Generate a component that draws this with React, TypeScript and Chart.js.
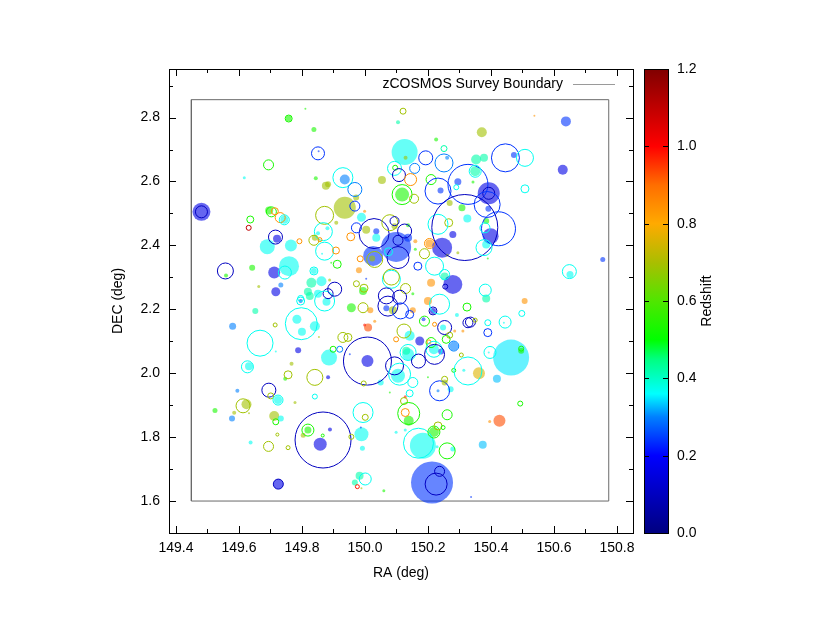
import React, { useEffect, useRef } from 'react';
import { Chart, registerables } from 'chart.js';

Chart.register(...registerables);

const FONT = "'Liberation Sans', Arial, Helvetica, sans-serif";

// Axis tick values
const raTicks = [149.4, 149.5, 149.6, 149.7, 149.8, 149.9, 150.0, 150.1, 150.2, 150.3, 150.4, 150.5, 150.6, 150.7, 150.8];
const raLabelled = [149.4, 149.6, 149.8, 150.0, 150.2, 150.4, 150.6, 150.8];
const decTicks = [1.5, 1.6, 1.7, 1.8, 1.9, 2.0, 2.1, 2.2, 2.3, 2.4, 2.5, 2.6, 2.7, 2.8, 2.9];
const decLabelled = [1.6, 1.8, 2.0, 2.2, 2.4, 2.6, 2.8];
const zTicks = [0, 0.2, 0.4, 0.6, 0.8, 1.0, 1.2];

// Survey boundary (RA, DEC corners)
const boundaryRA = [149.449, 150.774, 150.774, 149.449, 149.449];
const boundaryDEC = [1.6, 1.6, 2.856, 2.856, 1.6];

// Colour map for redshift
const cmapZ = [0, 0.2, 0.3, 0.36, 0.45, 0.5, 0.6, 0.7, 0.8, 0.9, 1.0, 1.2];
const cmapRGB = [
  [0, 0, 128], [0, 0, 255], [0, 128, 255], [0, 255, 255], [0, 255, 128], [0, 255, 0],
  [80, 230, 0], [170, 190, 0], [255, 170, 0], [255, 110, 0], [255, 0, 0], [128, 0, 0],
];

// Groups drawn as filled discs: [RA, DEC, redshift, radius]
const filledGroups = [
  [149.811, 2.828, 0.53, 1], [149.758, 2.797, 0.53, 3], [149.838, 2.763, 0.53, 2.5], [149.853, 2.695, 0.24, 1],
  [149.617, 2.612, 0.37, 1.5], [149.844, 2.610, 0.53, 2], [149.876, 2.587, 0.69, 4], [149.481, 2.505, 0.16, 9],
  [149.696, 2.509, 0.53, 4], [149.744, 2.480, 0.37, 4], [149.721, 2.421, 0.16, 4], [149.690, 2.396, 0.37, 7.5],
  [149.765, 2.400, 0.37, 6], [149.881, 2.454, 0.37, 2], [149.851, 2.438, 0.37, 2], [149.841, 2.424, 0.69, 3],
  [149.864, 2.374, 0.37, 1], [149.759, 2.335, 0.37, 10], [149.712, 2.315, 0.16, 6], [149.559, 2.306, 0.53, 2],
  [149.642, 2.330, 0.53, 3], [149.663, 2.271, 0.69, 1.5], [149.733, 2.276, 0.30, 2.5], [149.717, 2.255, 0.16, 4.5],
  [149.838, 2.320, 0.37, 3], [149.830, 2.283, 0.42, 5], [149.862, 2.288, 0.37, 5], [149.819, 2.255, 0.42, 4],
  [149.851, 2.249, 0.37, 4], [149.893, 2.346, 0.53, 1], [149.888, 2.292, 0.69, 1.5], [149.796, 2.226, 0.24, 2],
  [149.825, 2.242, 0.42, 4], [149.878, 2.224, 0.37, 4], [149.652, 2.195, 0.42, 3], [149.580, 2.147, 0.30, 3.5],
  [149.784, 2.169, 0.37, 4.5], [149.800, 2.130, 0.37, 4], [149.841, 2.147, 0.37, 5], [149.717, 2.068, 0.37, 1],
  [149.854, 2.113, 0.69, 1], [149.788, 2.072, 0.16, 3], [149.886, 2.049, 0.37, 8], [149.632, 2.022, 0.37, 4],
  [149.767, 2.030, 0.69, 2], [149.747, 1.983, 0.53, 2], [149.883, 1.987, 0.16, 2], [149.724, 1.916, 0.37, 4],
  [149.595, 1.945, 0.30, 2], [149.624, 1.903, 0.69, 5], [149.524, 1.883, 0.53, 2.5], [149.585, 1.876, 0.69, 2],
  [149.578, 1.858, 0.30, 3], [149.632, 1.875, 0.69, 1], [149.778, 1.908, 0.69, 1.5], [149.712, 1.866, 0.69, 5],
  [149.733, 1.858, 0.37, 3], [149.637, 1.783, 0.37, 2], [149.819, 1.822, 0.53, 3.5], [149.804, 1.806, 0.69, 2.5],
  [149.889, 1.824, 0.16, 2], [149.858, 1.778, 0.16, 6.5], [149.725, 1.653, 0.16, 5], [150.105, 2.785, 0.42, 2],
  [150.126, 2.692, 0.37, 13], [150.129, 2.674, 0.69, 2], [150.226, 2.731, 0.53, 2], [150.261, 2.674, 0.30, 2],
  [150.240, 2.572, 0.24, 3], [150.295, 2.599, 0.24, 3.5], [150.118, 2.559, 0.53, 7], [150.054, 2.605, 0.69, 4],
  [149.936, 2.606, 0.30, 5], [149.972, 2.550, 0.69, 3], [149.936, 2.518, 0.69, 11], [149.909, 2.471, 0.69, 2],
  [149.883, 2.591, 0.69, 3], [149.999, 2.507, 0.84, 1.5], [149.989, 2.488, 0.37, 4.5], [150.004, 2.449, 0.69, 4],
  [150.036, 2.444, 0.24, 3], [150.036, 2.424, 0.37, 4], [150.094, 2.460, 0.69, 3], [150.137, 2.463, 0.53, 2],
  [150.137, 2.424, 0.24, 4], [150.160, 2.413, 0.84, 2], [150.099, 2.395, 0.24, 15], [150.026, 2.367, 0.24, 10],
  [150.023, 2.359, 0.69, 3], [149.981, 2.322, 0.84, 3], [150.004, 2.296, 0.24, 1], [150.160, 2.388, 0.53, 1.5],
  [150.205, 2.406, 0.84, 4], [150.245, 2.393, 0.16, 10], [150.279, 2.434, 0.16, 3.5], [150.269, 2.533, 0.69, 3],
  [150.308, 2.518, 0.53, 3.5], [150.325, 2.484, 0.37, 4], [150.261, 2.369, 0.69, 1.5], [150.295, 2.377, 0.69, 1.5],
  [150.253, 2.303, 0.42, 4], [150.210, 2.283, 0.84, 4], [150.279, 2.278, 0.16, 9.5], [150.152, 2.249, 0.53, 1.5],
  [149.994, 2.257, 0.53, 4], [149.957, 2.205, 0.53, 4.5], [150.017, 2.197, 0.84, 3], [150.068, 2.203, 0.24, 3],
  [150.089, 2.197, 0.69, 4], [150.200, 2.226, 0.84, 4], [150.216, 2.195, 0.16, 3], [150.152, 2.197, 0.84, 3],
  [150.186, 2.169, 0.24, 2], [150.248, 2.143, 0.37, 3], [150.292, 2.182, 0.37, 2], [150.010, 2.143, 0.93, 4],
  [149.999, 2.151, 0.98, 1.5], [150.031, 2.163, 0.84, 1.5], [150.142, 2.117, 0.37, 5], [150.174, 2.101, 0.16, 4.5],
  [150.219, 2.075, 0.37, 5], [150.242, 2.068, 0.24, 3], [150.285, 2.132, 0.84, 1.5], [150.311, 2.132, 0.84, 1.5],
  [150.282, 2.085, 0.30, 4.5], [150.008, 2.038, 0.16, 6], [149.952, 2.059, 0.24, 1], [150.105, 1.992, 0.37, 7],
  [150.137, 2.059, 0.37, 6], [150.131, 2.070, 0.42, 4], [150.050, 1.971, 0.37, 3], [150.079, 1.940, 0.53, 1],
  [150.200, 1.987, 0.53, 1], [150.232, 1.945, 0.30, 1.5], [150.253, 1.971, 0.69, 3], [150.272, 1.950, 0.37, 3],
  [150.314, 2.009, 0.37, 1.5], [150.128, 1.926, 0.98, 1.5], [150.139, 1.851, 0.53, 5], [149.989, 1.809, 0.37, 7],
  [149.987, 1.830, 0.24, 1], [149.992, 1.765, 0.37, 2.5], [150.099, 1.815, 0.37, 1.5], [150.128, 1.822, 0.37, 1.5],
  [150.184, 1.773, 0.37, 13], [150.219, 1.816, 0.53, 5], [150.279, 1.763, 0.37, 2.5], [150.229, 1.770, 0.37, 1.5],
  [149.983, 1.679, 0.42, 4], [149.968, 1.658, 0.42, 3], [149.989, 1.640, 0.69, 1], [150.060, 1.632, 0.53, 1.5],
  [150.213, 1.658, 0.24, 21], [150.337, 1.613, 0.24, 1], [150.538, 2.806, 0.84, 1], [150.638, 2.788, 0.24, 5],
  [150.371, 2.754, 0.69, 5], [150.473, 2.683, 0.24, 3], [150.628, 2.637, 0.16, 5], [150.353, 2.669, 0.42, 5],
  [150.378, 2.674, 0.42, 4], [150.350, 2.632, 0.42, 5], [150.343, 2.598, 0.53, 1.5], [150.393, 2.563, 0.16, 11],
  [150.392, 2.515, 0.24, 3], [150.399, 2.429, 0.16, 8], [150.385, 2.476, 0.53, 3], [150.385, 2.403, 0.37, 4],
  [150.390, 2.359, 0.53, 1], [150.755, 2.356, 0.24, 2.5], [150.651, 2.309, 0.37, 3.5], [150.385, 2.234, 0.42, 4],
  [150.507, 2.226, 0.84, 3], [150.441, 2.158, 0.37, 1], [150.393, 2.065, 0.37, 1], [150.464, 2.049, 0.35, 18],
  [150.496, 2.070, 0.53, 3], [150.362, 2.000, 0.76, 6], [150.419, 1.983, 0.33, 4], [150.427, 1.851, 0.93, 6],
  [150.396, 1.849, 0.84, 1.5], [150.374, 1.776, 0.33, 4],
];

// Groups drawn as open circles: [RA, DEC, redshift, radius]
const openGroups = [
  [149.758, 2.797, 0.53, 3.5], [149.851, 2.688, 0.24, 6.5], [149.694, 2.652, 0.53, 5], [149.481, 2.505, 0.10, 6],
  [149.703, 2.505, 0.53, 5], [149.714, 2.507, 0.84, 3.5], [149.731, 2.487, 0.84, 5], [149.744, 2.480, 0.37, 5],
  [149.636, 2.481, 0.53, 3.5], [149.631, 2.455, 1.10, 2.5], [149.716, 2.426, 0.10, 7], [149.792, 2.413, 0.84, 2.5],
  [149.872, 2.494, 0.69, 9], [149.868, 2.443, 0.37, 9], [149.838, 2.416, 0.69, 5], [149.857, 2.418, 0.84, 2],
  [149.872, 2.382, 0.37, 9], [149.746, 2.315, 0.37, 6.5], [149.557, 2.320, 0.10, 8], [149.838, 2.320, 0.37, 4],
  [149.883, 2.249, 0.10, 5], [149.796, 2.234, 0.37, 3], [149.796, 2.226, 0.37, 4], [149.872, 2.226, 0.37, 10],
  [149.715, 2.151, 0.69, 2], [149.798, 2.155, 0.37, 16], [149.667, 2.094, 0.37, 13], [149.627, 2.020, 0.37, 6],
  [149.756, 1.995, 0.69, 4], [149.841, 1.987, 0.69, 8], [149.695, 1.947, 0.10, 7], [149.701, 1.929, 0.69, 3],
  [149.724, 1.916, 0.37, 5], [149.841, 1.927, 0.37, 2.5], [149.613, 1.898, 0.69, 7], [149.717, 1.848, 0.53, 3],
  [149.722, 1.808, 0.69, 1.5], [149.694, 1.771, 0.69, 5], [149.756, 1.767, 0.69, 2], [149.867, 1.791, 0.10, 28],
  [149.819, 1.822, 0.53, 6], [149.866, 1.805, 0.53, 1.5], [149.725, 1.653, 0.10, 5], [150.121, 2.820, 0.69, 3],
  [150.251, 2.703, 0.42, 3], [150.193, 2.674, 0.24, 7], [150.251, 2.658, 0.30, 9], [150.094, 2.641, 0.37, 7],
  [150.096, 2.643, 0.53, 2.5], [150.108, 2.620, 0.10, 6.5], [150.158, 2.641, 0.30, 5], [150.145, 2.606, 0.84, 6],
  [150.210, 2.606, 0.53, 5], [150.232, 2.570, 0.24, 13], [150.290, 2.582, 0.37, 2.5], [150.327, 2.591, 0.24, 20],
  [150.118, 2.559, 0.53, 10], [150.156, 2.546, 0.69, 4.5], [149.930, 2.612, 0.37, 10], [149.968, 2.575, 0.30, 7],
  [149.968, 2.523, 0.24, 5], [150.029, 2.437, 0.10, 15], [149.973, 2.455, 0.24, 5], [149.955, 2.427, 0.84, 4],
  [150.079, 2.471, 0.69, 8], [150.094, 2.476, 0.10, 4.5], [150.126, 2.445, 0.10, 7], [150.105, 2.416, 0.10, 5],
  [150.105, 2.362, 0.10, 11], [150.031, 2.356, 0.69, 8], [150.075, 2.380, 0.37, 4], [149.985, 2.358, 0.84, 3],
  [149.908, 2.384, 0.84, 3.5], [149.912, 2.341, 0.53, 4], [150.168, 2.335, 0.24, 4], [150.189, 2.374, 0.69, 5],
  [150.205, 2.406, 0.84, 5], [150.266, 2.471, 0.69, 4], [150.232, 2.466, 0.37, 10], [150.221, 2.335, 0.37, 9],
  [150.253, 2.309, 0.37, 5], [150.255, 2.271, 0.10, 2.5], [150.084, 2.294, 0.37, 9], [150.084, 2.301, 0.69, 8],
  [150.129, 2.265, 0.69, 5], [149.997, 2.266, 0.69, 4], [149.973, 2.280, 0.69, 3], [149.904, 2.263, 0.10, 7],
  [150.068, 2.242, 0.10, 8], [150.110, 2.238, 0.10, 7], [150.317, 2.456, 0.10, 33], [149.994, 2.205, 0.69, 5],
  [150.073, 2.210, 0.10, 10], [150.113, 2.195, 0.24, 8], [150.216, 2.195, 0.10, 4], [150.237, 2.216, 0.37, 10],
  [150.142, 2.184, 0.24, 4], [150.189, 2.163, 0.53, 5], [150.253, 2.143, 0.10, 7], [150.324, 2.207, 0.53, 4],
  [150.327, 2.158, 0.10, 5], [150.221, 2.153, 0.84, 2], [150.124, 2.132, 0.69, 7], [150.099, 2.106, 0.84, 2.5],
  [150.210, 2.096, 0.53, 5], [150.203, 2.098, 0.84, 2], [150.219, 2.075, 0.37, 8], [150.221, 2.059, 0.10, 10],
  [150.258, 2.106, 0.53, 4], [150.269, 2.119, 0.69, 3], [150.282, 2.085, 0.30, 5], [150.306, 2.057, 0.69, 2],
  [149.930, 2.112, 0.69, 5], [149.946, 2.112, 0.69, 4], [149.899, 2.075, 0.53, 3], [149.920, 2.075, 0.30, 3],
  [150.008, 2.038, 0.10, 24], [150.094, 2.023, 0.10, 9], [150.110, 1.997, 0.37, 11], [150.137, 2.065, 0.37, 8],
  [150.170, 2.038, 0.10, 7], [150.152, 1.971, 0.37, 5], [150.142, 1.937, 0.37, 3.5], [149.996, 1.968, 0.69, 2.5],
  [150.237, 1.945, 0.24, 10], [150.253, 1.981, 0.69, 3], [150.282, 2.009, 0.53, 2], [150.327, 2.007, 0.37, 14],
  [150.124, 1.913, 0.69, 3.5], [150.139, 1.874, 0.53, 11], [150.128, 1.877, 0.84, 4], [149.994, 1.877, 0.37, 10],
  [150.001, 1.862, 0.69, 3], [149.957, 1.801, 0.69, 2.5], [150.170, 1.781, 0.37, 15], [150.219, 1.816, 0.53, 6],
  [150.232, 1.835, 0.69, 4], [150.248, 1.830, 0.53, 2], [150.261, 1.870, 0.53, 5], [150.261, 1.757, 0.53, 8],
  [150.001, 1.669, 0.37, 6], [149.976, 1.645, 0.98, 2], [150.226, 1.653, 0.10, 11], [150.237, 1.693, 0.10, 5],
  [150.446, 2.674, 0.24, 14], [150.508, 2.674, 0.37, 8.5], [150.350, 2.632, 0.37, 6], [150.508, 2.577, 0.37, 4],
  [150.393, 2.563, 0.10, 6], [150.388, 2.528, 0.24, 13], [150.424, 2.452, 0.24, 17], [150.381, 2.455, 0.37, 5],
  [150.378, 2.393, 0.37, 8], [150.649, 2.318, 0.37, 7], [150.382, 2.260, 0.37, 6], [150.335, 2.160, 0.10, 5],
  [150.350, 2.166, 0.69, 2], [150.390, 2.158, 0.37, 3], [150.445, 2.160, 0.37, 6], [150.498, 2.187, 0.37, 3],
  [150.390, 2.127, 0.24, 4], [150.397, 2.065, 0.37, 6], [150.496, 2.077, 0.53, 2.5], [150.493, 1.905, 0.53, 2.5],
];

function zRGB(z: number): number[] {
  if (z <= cmapZ[0]) return cmapRGB[0];
  for (let i = 1; i < cmapZ.length; i++) {
    if (z <= cmapZ[i]) {
      const t = (z - cmapZ[i - 1]) / (cmapZ[i] - cmapZ[i - 1]);
      const a = cmapRGB[i - 1], b = cmapRGB[i];
      return [0, 1, 2].map((k) => Math.round(a[k] + (b[k] - a[k]) * t));
    }
  }
  return cmapRGB[cmapRGB.length - 1];
}
function zColor(z: number, alpha: number): string {
  const c = zRGB(z);
  return `rgba(${c[0]},${c[1]},${c[2]},${alpha})`;
}
const isIn = (v: number, list: number[]) => list.some((t) => Math.abs(t - v) < 1e-6);

const decorPlugin = {
  id: 'decor',
  afterDraw(chart: any) {
    const ctx = chart.ctx;
    const { left, right, top, bottom } = chart.chartArea;
    const L = Math.round(left), R = Math.round(right), T = Math.round(top), B = Math.round(bottom);
    const xs = chart.scales.x, ys = chart.scales.y, cs = chart.scales.cb;
    ctx.save();
    ctx.strokeStyle = '#000';
    ctx.lineWidth = 1;
    const line = (x1: number, y1: number, x2: number, y2: number) => {
      ctx.beginPath(); ctx.moveTo(x1, y1); ctx.lineTo(x2, y2); ctx.stroke();
    };
    // frame
    ctx.strokeRect(L + 0.5, T + 0.5, R - L, B - T);
    // x ticks (inward, bottom & top)
    xs.ticks.forEach((t: any) => {
      const px = Math.round(xs.getPixelForValue(t.value)) + 0.5;
      const len = isIn(t.value, raLabelled) ? 7 : 4;
      line(px, B, px, B - len);
      line(px, T, px, T + len);
    });
    ys.ticks.forEach((t: any) => {
      const py = Math.round(ys.getPixelForValue(t.value)) + 0.5;
      const len = isIn(t.value, decLabelled) ? 7 : 4;
      line(L, py, L + len, py);
      line(R, py, R - len, py);
    });
    // colour bar
    const x0 = Math.round(cs.left) + 11, x1 = Math.round(cs.left) + 35;
    const yT = Math.round(cs.getPixelForValue(1.2)), yB = Math.round(cs.getPixelForValue(0));
    const grad = ctx.createLinearGradient(0, yB, 0, yT);
    cmapZ.forEach((z, i) => {
      const c = cmapRGB[i];
      grad.addColorStop(z / 1.2, `rgb(${c[0]},${c[1]},${c[2]})`);
    });
    ctx.fillStyle = grad;
    ctx.fillRect(x0, yT, x1 - x0, yB - yT);
    ctx.strokeRect(x0 + 0.5, yT + 0.5, x1 - x0, yB - yT);
    cs.ticks.forEach((t: any) => {
      const py = Math.round(cs.getPixelForValue(t.value)) + 0.5;
      line(x0, py, x0 + 5, py);
      line(x1, py, x1 - 5, py);
    });
    // colour bar title
    ctx.fillStyle = '#000';
    ctx.font = `14px ${FONT}`;
    ctx.save();
    ctx.translate(Math.round(cs.left) + 74, (yT + yB) / 2);
    ctx.rotate(-Math.PI / 2);
    ctx.textAlign = 'center';
    ctx.textBaseline = 'middle';
    ctx.fillText('Redshift', 0, 0);
    ctx.restore();
    // legend
    const ds = chart.data.datasets.find((d: any) => d.type === 'scatter');
    ctx.textAlign = 'right';
    ctx.textBaseline = 'middle';
    ctx.fillText(ds.label, R - 70, T + 15);
    ctx.strokeStyle = '#9a9a9a';
    line(R - 60, T + 15.5, R - 18, T + 15.5);
    ctx.restore();
  },
};

export default function App() {
  const ref = useRef<HTMLCanvasElement | null>(null);
  useEffect(() => {
    if (!ref.current) return;
    const tickFont = { family: FONT, size: 14 };
    const chart = new Chart(ref.current, {
      type: 'bubble',
      data: {
        datasets: [
          {
            type: 'scatter',
            label: 'zCOSMOS Survey Boundary',
            data: boundaryRA.map((x, i) => ({ x, y: boundaryDEC[i] })),
            showLine: true,
            borderColor: '#6a6a6a',
            borderWidth: 1,
            pointRadius: 0,
            fill: false,
            order: 2,
          } as any,
          {
            label: 'filled',
            data: filledGroups.map((g) => ({ x: g[0], y: g[1], r: g[3] })),
            backgroundColor: filledGroups.map((g) => zColor(g[2], 0.6)),
            borderWidth: 0,
            order: 1,
          },
          {
            label: 'open',
            data: openGroups.map((g) => ({ x: g[0], y: g[1], r: g[3] })),
            backgroundColor: 'rgba(0,0,0,0)',
            borderColor: openGroups.map((g) => zColor(g[2], 1)),
            borderWidth: 1,
            order: 0,
          },
        ],
      },
      options: {
        responsive: false,
        animation: false,
        devicePixelRatio: 1,
        events: [],
        layout: { padding: { left: 109, top: 69, right: 112, bottom: 49 } },
        plugins: { legend: { display: false }, tooltip: { enabled: false } },
        scales: {
          x: {
            type: 'linear',
            position: 'bottom',
            min: 149.378,
            max: 150.851,
            bounds: 'data',
            grid: { display: false, drawTicks: false },
            border: { display: false },
            afterBuildTicks: (s: any) => { s.ticks = raTicks.map((v) => ({ value: v })); },
            afterFit: (s: any) => { s.height = 60; },
            ticks: {
              autoSkip: false, maxRotation: 0, minRotation: 0, padding: 7, color: '#000', font: tickFont,
              callback: (v: any) => (isIn(Number(v), raLabelled) ? Number(v).toFixed(1) : ''),
            },
            title: { display: true, text: 'RA (deg)', color: '#000', font: tickFont, padding: { top: 0, bottom: 11 } },
          },
          y: {
            type: 'linear',
            position: 'left',
            min: 1.5,
            max: 2.952,
            bounds: 'data',
            grid: { display: false, drawTicks: false },
            border: { display: false },
            afterBuildTicks: (s: any) => { s.ticks = decTicks.map((v) => ({ value: v })); },
            afterFit: (s: any) => { s.width = 60; },
            ticks: {
              autoSkip: false, padding: 9, color: '#000', font: tickFont,
              callback: (v: any) => (isIn(Number(v), decLabelled) ? Number(v).toFixed(1) : ''),
            },
            title: { display: true, text: 'DEC (deg)', color: '#000', font: tickFont, padding: { top: 1, bottom: 0 } },
          },
          cb: {
            type: 'linear',
            axis: 'y',
            position: 'right',
            min: 0,
            max: 1.2,
            bounds: 'data',
            grid: { display: false, drawTicks: false },
            border: { display: false },
            afterBuildTicks: (s: any) => { s.ticks = zTicks.map((v) => ({ value: v })); },
            afterFit: (s: any) => { s.width = 85; },
            ticks: {
              autoSkip: false, padding: 44, color: '#000', font: tickFont,
              callback: (v: any) => Number(v).toFixed(1),
            },
          },
        } as any,
      },
      plugins: [decorPlugin],
    } as any);
    return () => chart.destroy();
  }, []);
  return (
    <div style={{ position: 'absolute', left: 0, top: 0, width: 830, height: 642, background: '#fff' }}>
      <canvas ref={ref} width={830} height={642} style={{ display: 'block' }} />
    </div>
  );
}
